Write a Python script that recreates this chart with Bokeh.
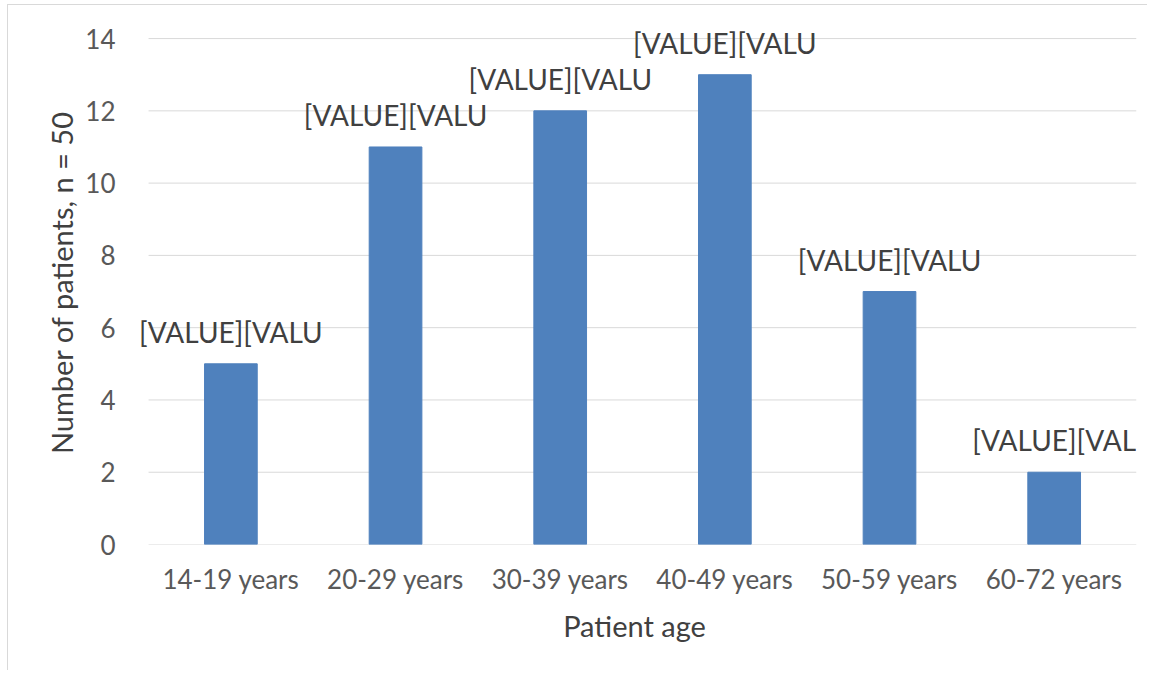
from bokeh.plotting import figure
from bokeh.models import ColumnDataSource, Range1d, FixedTicker
from bokeh.core.properties import value
from bokeh.embed import file_html
from bokeh.resources import INLINE

categories = ["14-19 years", "20-29 years", "30-39 years", "40-49 years", "50-59 years", "60-72 years"]
patients = [5, 11, 12, 13, 7, 2]
label_texts = ["[VALUE][VALU", "[VALUE][VALU", "[VALUE][VALU", "[VALUE][VALU", "[VALUE][VALU", "[VALUE][VAL"]
y_ticks = [0, 2, 4, 6, 8, 10, 12, 14]

FONT = "Lato"
TXT = "#595959"
DARK = "#404040"
GRID = "#D9D9D9"
BAR = "#4F81BD"

n = len(categories)
xpos = [i + 0.5 for i in range(n)]
src = ColumnDataSource(dict(x=xpos, val=patients, lab=label_texts))

p = figure(x_range=Range1d(-0.0975, n), y_range=Range1d(0, 14.5),
           width=1140, height=666, output_backend="svg", toolbar_location=None,
           min_border_left=124, min_border_right=12, min_border_top=15, min_border_bottom=127)
p.styles = {"margin-left": "7px", "margin-top": "4px",
            "border-left": "1px solid #D9D9D9", "border-top": "1px solid #D9D9D9"}
p.outline_line_color = None
p.background_fill_color = "white"
p.border_fill_color = "white"

# horizontal gridlines across the category span
p.segment(x0=[0] * len(y_ticks), x1=[n] * len(y_ticks), y0=y_ticks, y1=y_ticks,
          line_color=GRID, line_width=1)

p.vbar(x="x", top="val", width=0.32, source=src, fill_color=BAR, line_color=BAR)
p.text(x="x", y="val", text="lab", source=src, text_align="center", text_baseline="bottom",
       y_offset=-15, text_font=value(FONT), text_font_size="28px", text_color=DARK)

p.xgrid.grid_line_color = None
p.ygrid.grid_line_color = None

p.yaxis.ticker = FixedTicker(ticks=y_ticks)
p.yaxis.axis_line_color = None
p.yaxis.major_tick_line_color = None
p.yaxis.minor_tick_line_color = None
p.yaxis.major_label_standoff = 11
p.yaxis.axis_label = "Number of patients, n = 50"
p.yaxis.axis_label_standoff = 3

p.xaxis.ticker = FixedTicker(ticks=xpos)
p.xaxis.major_label_overrides = {x: c for x, c in zip(xpos, categories)}
p.xaxis.axis_line_color = None
p.xaxis.major_tick_line_color = None
p.xaxis.minor_tick_line_color = None
p.xaxis.major_label_standoff = 12
p.xaxis.axis_label = "Patient age"
p.xaxis.axis_label_standoff = 10

for ax in (p.xaxis, p.yaxis):
    ax.major_label_text_font = FONT
    ax.major_label_text_font_size = "26px"
    ax.major_label_text_color = TXT
    ax.axis_label_text_font = FONT
    ax.axis_label_text_font_size = "29px"
    ax.axis_label_text_color = DARK
    ax.axis_label_text_font_style = "normal"

open("out.html", "w").write(file_html(p, INLINE))
